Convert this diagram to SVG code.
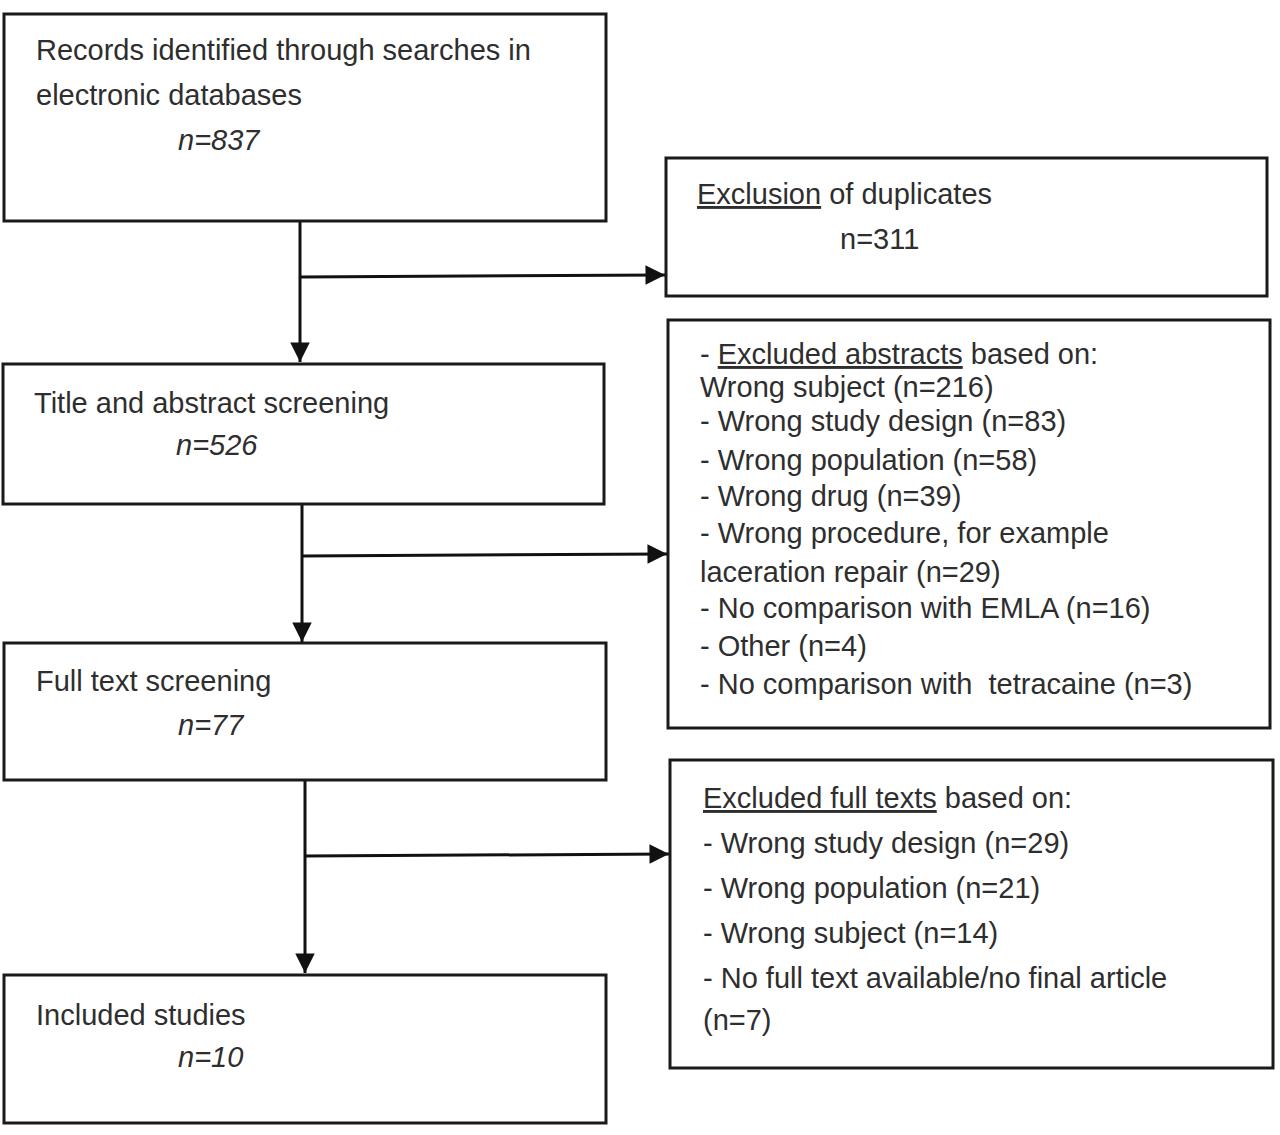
<svg xmlns="http://www.w3.org/2000/svg" width="1280" height="1135" viewBox="0 0 1280 1135">
<style>
.box{fill:#fff;stroke:#1a1a1a;stroke-width:3}
.t{font-family:"Liberation Sans",Arial,sans-serif;font-size:29px;fill:#2e2e2e}
.n{font-style:italic}
.u{text-decoration:underline}
.c{stroke:#111;stroke-width:3;fill:none}
</style>
<defs>
<marker id="ah" viewBox="0 0 10 10" refX="10" refY="5" markerWidth="7" markerHeight="6.5" orient="auto" markerUnits="strokeWidth">
<path d="M0,0 L10,5 L0,10 z" fill="#111"/>
</marker>
</defs>
<rect width="1280" height="1135" fill="#fff"/>
<g id="connectors">
<line class="c" x1="300" y1="221" x2="300" y2="362" marker-end="url(#ah)"/>
<line class="c" x1="300" y1="277" x2="665" y2="275" marker-end="url(#ah)"/>
<line class="c" x1="302" y1="504" x2="302" y2="642" marker-end="url(#ah)"/>
<line class="c" x1="302" y1="556" x2="667" y2="554" marker-end="url(#ah)"/>
<line class="c" x1="305" y1="780" x2="305" y2="973" marker-end="url(#ah)"/>
<line class="c" x1="305" y1="856" x2="669" y2="854" marker-end="url(#ah)"/>
</g>
<g id="records">
<rect class="box" x="4" y="14" width="602" height="207"/>
<text class="t" x="36" y="60">Records identified through searches in</text>
<text class="t" x="36" y="105">electronic databases</text>
<text class="t n" x="178" y="150">n=837</text>
</g>
<g id="duplicates">
<rect class="box" x="666" y="158" width="601" height="138"/>
<text class="t" x="697" y="204"><tspan class="u">Exclusion</tspan> of duplicates</text>
<text class="t" x="840" y="249">n=311</text>
</g>
<g id="title-abstract">
<rect class="box" x="3" y="364" width="601" height="140"/>
<text class="t" x="34" y="413">Title and abstract screening</text>
<text class="t n" x="176" y="455">n=526</text>
</g>
<g id="excluded-abstracts">
<rect class="box" x="668" y="320" width="602" height="408"/>
<text class="t" x="700" y="364">- <tspan class="u">Excluded abstracts</tspan> based on:</text>
<text class="t" x="700" y="397">Wrong subject (n=216)</text>
<text class="t" x="700" y="431">- Wrong study design (n=83)</text>
<text class="t" x="700" y="470">- Wrong population (n=58)</text>
<text class="t" x="700" y="506">- Wrong drug (n=39)</text>
<text class="t" x="700" y="543">- Wrong procedure, for example</text>
<text class="t" x="700" y="582">laceration repair (n=29)</text>
<text class="t" x="700" y="618">- No comparison with EMLA (n=16)</text>
<text class="t" x="700" y="656">- Other (n=4)</text>
<text class="t" x="700" y="694" xml:space="preserve">- No comparison with  tetracaine (n=3)</text>
</g>
<g id="full-text">
<rect class="box" x="4" y="643" width="602" height="137"/>
<text class="t" x="36" y="691">Full text screening</text>
<text class="t n" x="178" y="735">n=77</text>
</g>
<g id="excluded-full-texts">
<rect class="box" x="670" y="760" width="603" height="308"/>
<text class="t" x="703" y="808"><tspan class="u">Excluded full texts</tspan> based on:</text>
<text class="t" x="703" y="853">- Wrong study design (n=29)</text>
<text class="t" x="703" y="898">- Wrong population (n=21)</text>
<text class="t" x="703" y="943">- Wrong subject (n=14)</text>
<text class="t" x="703" y="988">- No full text available/no final article</text>
<text class="t" x="703" y="1030">(n=7)</text>
</g>
<g id="included">
<rect class="box" x="4" y="975" width="602" height="148"/>
<text class="t" x="36" y="1025">Included studies</text>
<text class="t n" x="178" y="1067">n=10</text>
</g>
</svg>
